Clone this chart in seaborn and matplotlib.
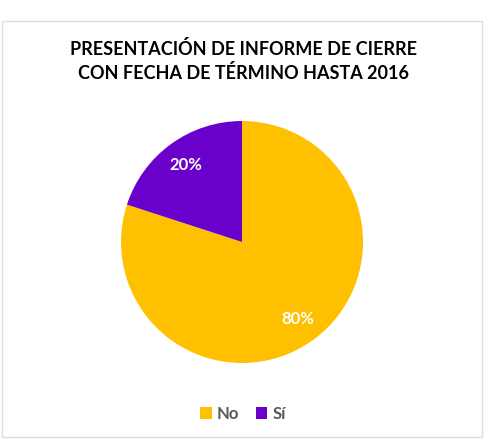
import matplotlib
matplotlib.use("Agg")
import matplotlib.pyplot as plt
import seaborn as sns
from matplotlib.patches import Rectangle

# data
categories = ["No", "Sí"]
values = [80, 20]
colors = ["#FFC000", "#6A00CC"]
title = "PRESENTACIÓN DE INFORME DE CIERRE\nCON FECHA DE TÉRMINO HASTA 2016"

sns.set_theme(style="white")
plt.rcParams["font.family"] = ["Lato", "DejaVu Sans"]

fig = plt.figure(figsize=(4.86, 4.40), dpi=100)

# light chart border
fig.patches.append(Rectangle((2 / 486, 3 / 440), 480 / 486, 416 / 440, transform=fig.transFigure,
                             fill=False, edgecolor="#DDDDDD", linewidth=1))

ax = fig.add_axes([0.249, 0.175, 0.498, 0.55])
wedges, texts, autotexts = ax.pie(values, colors=sns.color_palette(colors), startangle=90,
                                  counterclock=False, autopct="%1.0f%%", pctdistance=0.79,
                                  wedgeprops=dict(linewidth=0),
                                  textprops=dict(color="white", fontsize=12, fontweight="bold"))
ax.set_xlim(-1, 1)
ax.set_ylim(-1, 1)
ax.set_aspect("equal")

fig.text(0.5, 0.862, title, ha="center", va="center", fontsize=13, fontweight="bold",
         color="#000000", linespacing=1.4)

leg = fig.legend(wedges, categories, loc="center", bbox_to_anchor=(0.5, 0.06), ncol=2, frameon=False,
                 handlelength=0.7, handleheight=0.7, handletextpad=0.3, columnspacing=1.0,
                 prop=dict(size=12, weight="bold"))
for t in leg.get_texts():
    t.set_color("#595959")

fig.savefig("out.png", dpi=100)
